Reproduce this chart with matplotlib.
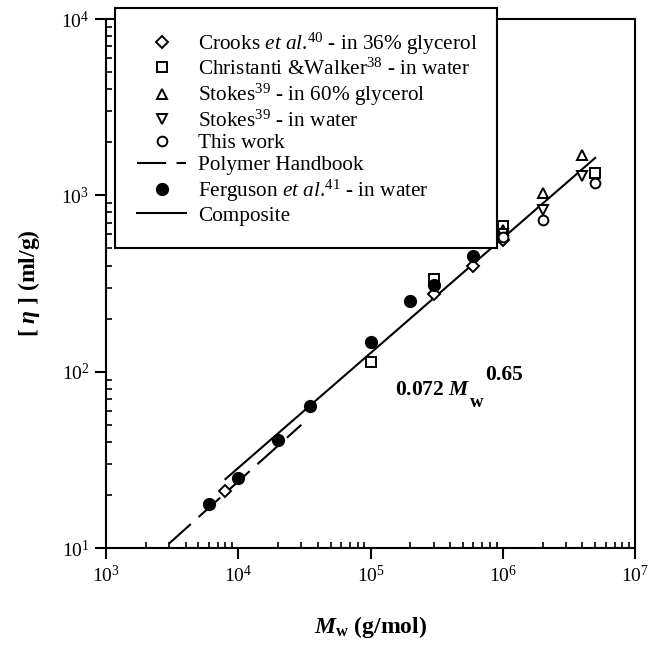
import matplotlib
matplotlib.use("Agg")
import matplotlib.pyplot as plt
import numpy as np

plt.rcParams['font.family'] = ['Liberation Serif', 'DejaVu Serif']
plt.rcParams['mathtext.fontset'] = 'custom'
plt.rcParams['mathtext.rm'] = 'Liberation Serif'
plt.rcParams['mathtext.it'] = 'Liberation Serif:italic'
plt.rcParams['mathtext.bf'] = 'Liberation Serif:bold'
plt.rcParams['mathtext.bfit'] = 'Liberation Serif:italic:bold'

# data (Mw in g/mol, [eta] in ml/g)
crooksM = [8000, 3e5, 6e5, 1e6]
crooksEta = [21.0, 275, 395, 560]

christantiM = [1e5, 3e5, 1e6, 5e6]
christantiEta = [113, 335, 670, 1330]

stokesGlyM = [1e6, 2e6, 4e6]
stokesGlyEta = [640, 1030, 1700]

stokesWaterM = [1e6, 2e6, 4e6]
stokesWaterEta = [600, 830, 1280]

thisWorkM = [1e6, 2e6, 5e6]
thisWorkEta = [580, 725, 1180]

fergusonM = [6000, 10000, 20000, 35000, 1e5, 2e5, 3e5, 6e5]
fergusonEta = [17.8, 25, 41, 64, 148, 250, 310, 450]

handbookM = [3000, 30000]
handbookEta = [10.6, 50]

compositeM = [8000, 5e6]
compositeEta = [24.6, 1630]

labels = [r'Crooks $\it{et\ al}$.$^{40}$ - in 36% glycerol',
          r'Christanti &Walker$^{38}$ - in water',
          r'Stokes$^{39}$ - in 60% glycerol',
          r'Stokes$^{39}$ - in water',
          'This work',
          'Polymer Handbook',
          r'Ferguson $\it{et\ al}$.$^{41}$ - in water',
          'Composite']

fig = plt.figure(figsize=(6.5, 6.52), dpi=100)
ax = fig.add_axes([106/650, 1 - 548/652, (635 - 106)/650, (548 - 19)/652])

ms = 7
mew = 1.4
h1, = ax.plot(crooksM, crooksEta, 'D', ms=ms - 1, mfc='white', mec='black', mew=mew, ls='none', zorder=3)
h2, = ax.plot(christantiM, christantiEta, 's', ms=ms - 0.5, mfc='white', mec='black', mew=mew, ls='none', zorder=3)
h3, = ax.plot(stokesGlyM, stokesGlyEta, '^', ms=ms, mfc='white', mec='black', mew=mew, ls='none', zorder=3)
h4, = ax.plot(stokesWaterM, stokesWaterEta, 'v', ms=ms, mfc='white', mec='black', mew=mew, ls='none', zorder=3)
h5, = ax.plot(thisWorkM, thisWorkEta, 'o', ms=ms, mfc='white', mec='black', mew=mew, ls='none', zorder=3)
h6, = ax.plot(handbookM, handbookEta, color='black', lw=1.5, dashes=(14, 5), zorder=2)
h7, = ax.plot(fergusonM, fergusonEta, 'o', ms=8.5, color='black', ls='none', zorder=3)
h8, = ax.plot(compositeM, compositeEta, color='black', lw=1.5, zorder=2)

ax.set_xscale('log')
ax.set_yscale('log')
ax.set_xlim(1e3, 1e7)
ax.set_ylim(1e1, 1e4)

for s in ax.spines.values():
    s.set_linewidth(1.5)
ax.tick_params(which='major', direction='out', length=8, width=1.5, labelsize=14, pad=4)
ax.tick_params(which='minor', direction='in', length=4, width=1.2)
ax.tick_params(top=False, right=False)

ax.set_xlabel(r'$\boldsymbol{M}_{\mathbf{w}}$ (g/mol)', fontsize=17, fontweight='bold', labelpad=20)
ax.set_ylabel(r'[ $\boldsymbol{\eta}$ ] (ml/g)', fontsize=17, fontweight='bold', labelpad=14)

fig.text(395/650, 1 - 395/652, r'0.072 $\boldsymbol{M}$', fontsize=15.5, fontweight='bold', ha='left', va='baseline')
fig.text(470/650, 1 - 407/652, 'w', fontsize=13.5, fontweight='bold', ha='left', va='baseline')
fig.text(485/650, 1 - 380/652, '0.65', fontsize=15.5, fontweight='bold', ha='left', va='baseline')

leg = ax.legend([h1, h2, h3, h4, h5, h6, h7, h8], labels,
                loc='upper left', bbox_to_anchor=(115/650, 248/652, (497 - 115)/650, (652 - 8 - 248)/652),
                bbox_transform=fig.transFigure, mode='expand', borderaxespad=0,
                fontsize=15.3, frameon=True, fancybox=False, edgecolor='black', framealpha=1,
                handlelength=2.3, handletextpad=0.55, labelspacing=0.1, borderpad=1.05)
leg.get_frame().set_linewidth(1.5)
leg.set_zorder(5)

fig.savefig('out.png', dpi=100)
